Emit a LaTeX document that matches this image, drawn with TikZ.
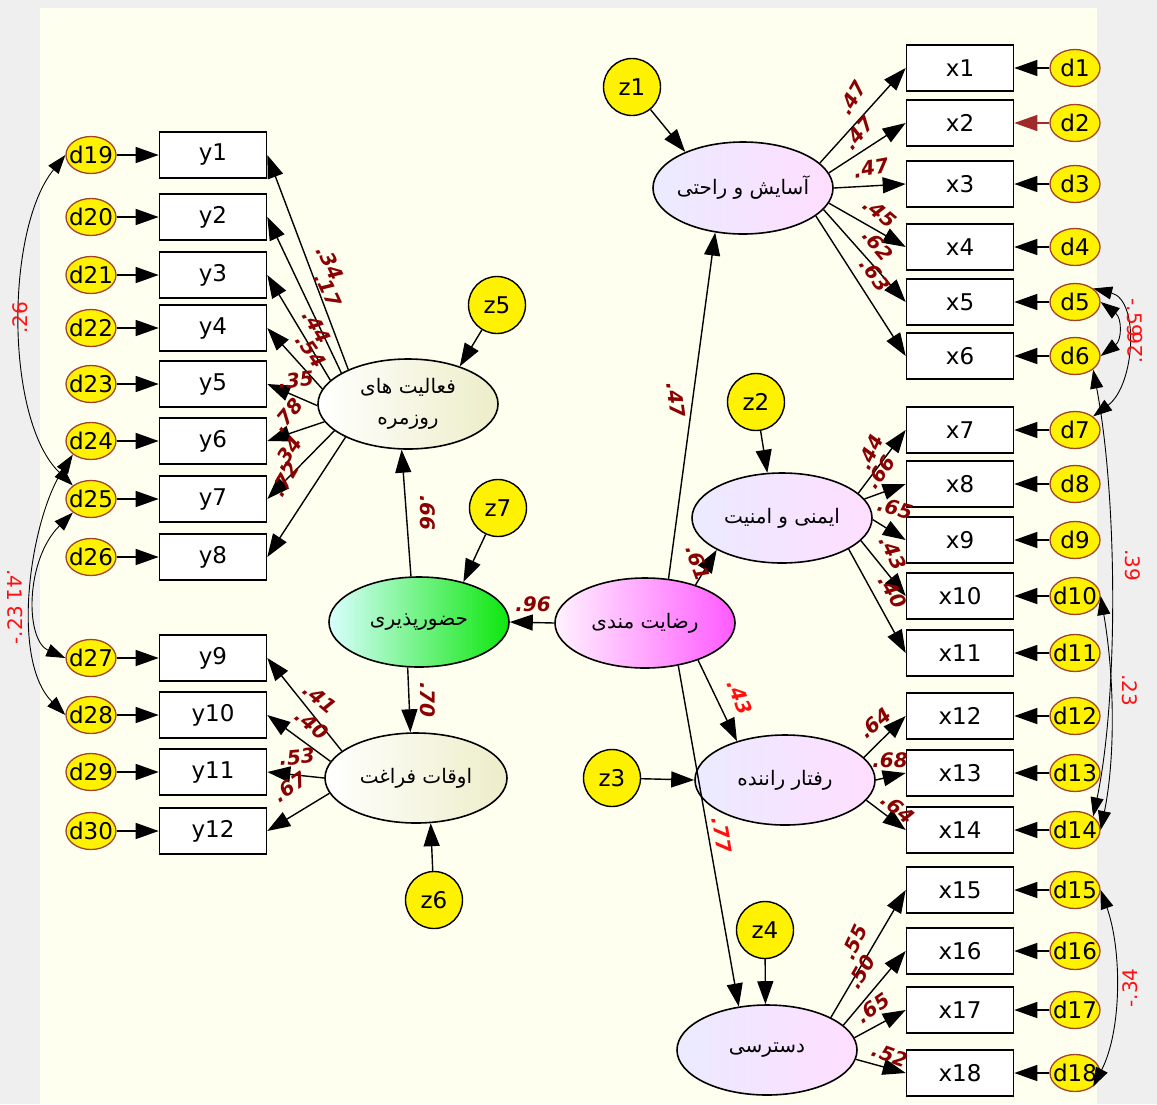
\documentclass[tikz,border=0pt]{standalone}
\usepackage{fontspec}
\setmainfont{DejaVu Sans}
\newfontfamily\fa[Script=Arabic]{DejaVu Sans}
\TeXXeTstate=1
\usetikzlibrary{arrows.meta,shapes.geometric}
\definecolor{bgray}{HTML}{EFEFEF}
\definecolor{pyel}{HTML}{FFFFF0}
\definecolor{labred}{HTML}{8B0000}
\definecolor{covred}{HTML}{FF1010}
\definecolor{dborder}{HTML}{A0442A}
\definecolor{darr}{HTML}{9E2A2A}
\newcommand\plab[5]{\node[plab,rotate=#4] (#1) at (#2,#3) {#5};}
\newcommand\clab[5]{\node[clab,rotate=#4] (#1) at (#2,#3) {#5};}
\begin{document}
\begin{tikzpicture}[x=1pt,y=-1pt,
  box/.style={draw,line width=1.6pt,fill=white,minimum width=107pt,minimum height=46pt,inner sep=0pt,font=\fontsize{23}{23}\selectfont},
  err/.style={ellipse,draw=dborder,line width=1.3pt,fill=yellow,minimum width=50pt,minimum height=37pt,inner sep=0pt,font=\fontsize{23}{23}\selectfont},
  zc/.style={circle,draw,line width=1.4pt,fill=yellow,minimum size=57pt,inner sep=0pt,font=\fontsize{23}{23}\selectfont},
  lat/.style={ellipse,draw,line width=1.6pt,minimum width=180pt,minimum height=90pt,inner sep=0pt},
  blue/.style={lat,left color=blue!8!white,right color=magenta!13!white},
  khaki/.style={lat,left color=white,right color=olive!14!white},
  ltxt/.style={font=\fa\fontsize{20}{31}\selectfont,align=center,inner sep=0pt},
  arr/.style={-{Triangle[length=23pt,width=16pt]},line width=1.4pt},
  cov/.style={{Triangle[length=19pt,width=13pt]}-{Triangle[length=19pt,width=13pt]},line width=0.9pt},
  plab/.style={font=\bfseries\itshape\fontsize{20}{20}\selectfont,text=labred,inner sep=0pt},
  clab/.style={font=\fontsize{20}{20}\selectfont,text=covred,inner sep=0pt}]
\useasboundingbox (0,0) rectangle (1157,1104);
\fill[bgray] (0,0) rectangle (1157,1104);
\fill[pyel] (40,8) rectangle (1097,1104);
% observed left
\foreach \i/\yy in {1/155,2/217,3/275,4/328,5/384,6/441,7/499,8/557,9/658,10/715,11/772,12/831}{
  \pgfmathtruncatemacro\j{\i+18}
  \node[box] (y\i) at (213,\yy) {y\i};
  \node[err] (d\j) at (91,\yy) {\makebox[0pt]{d\j}};
  \draw[arr] (d\j) -- (y\i);
}
% observed right
\foreach \i/\yy in {1/68,2/123,3/184,4/247,5/302,6/356,7/430,8/484,9/540,10/596,11/653,12/716,13/773,14/830,15/890,16/951,17/1010,18/1073}{
  \node[box] (x\i) at (960,\yy) {x\i};
  \node[err] (d\i) at (1075,\yy) {\makebox[0pt]{d\i}};
}
\foreach \i in {1,3,4,5,6,7,8,9,10,11,12,13,14,15,16,17,18}{\draw[arr] (d\i) -- (x\i);}
\draw[arr,draw=darr,-{Triangle[length=23pt,width=16pt,fill=darr]}] (d2) -- (x2);
% latent
\node[khaki] (F) at (408,404) {};
\node[ltxt] (Ft) at (F) {\beginR فعالیت های\endR\\\beginR روزمره\endR};
\node[lat,left color=cyan!15!white,right color=green!90!black!95!white] (H) at (419,622) {};
\node[ltxt] (Ht) at (H) {\beginR حضورپذیری\endR};
\node[khaki,minimum width=182pt] (O) at (416,778) {};
\node[ltxt] (Ot) at (O) {\beginR اوقات فراغت\endR};
\node[lat,left color=magenta!5!white,right color=magenta!65!white] (S) at (645,623) {};
\node[ltxt] (St) at (S) {\beginR رضایت مندی\endR};
\node[blue,minimum height=92pt] (A) at (743,188) {};
\node[ltxt] (At) at (A) {\beginR آسایش و راحتی\endR};
\node[blue] (I) at (782,518) {};
\node[ltxt] (It) at (I) {\beginR ایمنی و امنیت\endR};
\node[blue] (R) at (785,780) {};
\node[ltxt] (Rt) at (R) {\beginR رفتار راننده\endR};
\node[blue] (D) at (767,1050) {};
\node[ltxt] (Dt) at (D) {\beginR دسترسی\endR};
% disturbances
\node[zc] (z1) at (632,87) {z1};
\node[zc] (z2) at (756,402) {z2};
\node[zc] (z3) at (612,778) {z3};
\node[zc] (z4) at (765,930) {z4};
\node[zc] (z5) at (497,305) {z5};
\node[zc] (z6) at (434,900) {z6};
\node[zc] (z7) at (498,508) {z7};
\draw[arr] (z1) -- (A.148);
\draw[arr] (z2) -- (I.108);
\draw[arr] (z3) -- (R.180);
\draw[arr] (z4) -- (D.92);
\draw[arr] (z5) -- (F.36);
\draw[arr] (z6) -- (O.-72);
\draw[arr] (z7) -- (H.42);
% structural
\draw[arr] (S.180) -- (H.0);
\draw[arr] (S.62) -- (A.238);
\draw[arr] (S.37) -- (I.206);
\draw[arr] (S.-35) -- (R.141);
\draw[arr] (S.-52) -- (D.123);
\draw[arr] (H.100) -- (F.262);
\draw[arr] (H.256) -- (O.97);
% loadings
\foreach \i/\a in {1/150,2/155,3/163,4/170,5/181,6/192,7/200,8/208}{\draw[arr] (F.\a) -- (y\i.east);}
\foreach \i/\a in {9/160,10/169,11/180,12/190}{\draw[arr] (O.\a) -- (y\i.east);}
\foreach \i/\a in {1/18,2/10,3/0,4/-10,5/-15,6/-21}{\draw[arr] (A.\a) -- (x\i.west);}
\foreach \i/\a in {7/18,8/13,9/-1,10/-16,11/-25}{\draw[arr] (I.\a) -- (x\i.west);}
\foreach \i/\a in {12/16,13/0,14/-14}{\draw[arr] (R.\a) -- (x\i.west);}
\foreach \i/\a in {15/27,16/18,17/8,18/-6}{\draw[arr] (D.\a) -- (x\i.west);}
% covariances
\draw[cov] (d19.west) .. controls (5,230) and (5,420) .. (d25.north west);
\draw[cov] (d24.south west) .. controls (30,520) and (10,660) .. (d28.west);
\draw[cov] (d25.south west) .. controls (25,560) and (25,640) .. (d27.west);
\draw[cov] (d5.east) .. controls (1122,318) and (1122,340) .. (d6.east);
\draw[cov] (d5.north east) .. controls (1140,300) and (1135,385) .. (d7.north east);
\draw[cov] (d6.south east) .. controls (1118,500) and (1118,700) .. (d14.north east);
\draw[cov] (d10.east) .. controls (1115,680) and (1115,760) .. (d14.east);
\draw[cov] (d15.east) .. controls (1122,950) and (1122,1030) .. (d18.south east);
% labels
\plab{l1}{330}{263}{-65}{.34}
\plab{l2}{328}{290}{-65}{.17}
\plab{l3}{317}{327}{-60}{.44}
\plab{l4}{311}{351}{-55}{.54}
\plab{l5}{296}{380}{5}{.35}
\plab{l6}{287}{415}{50}{.78}
\plab{l7}{287}{453}{55}{.34}
\plab{l8}{285}{479}{60}{.72}
\plab{l9}{320}{698}{-40}{.41}
\plab{l10}{312}{724}{-40}{.40}
\plab{l11}{297}{757}{5}{.53}
\plab{l12}{290}{787}{35}{.67}
\plab{l13}{852}{98}{60}{.47}
\plab{l14}{858}{133}{50}{.47}
\plab{l15}{871}{168}{10}{.47}
\plab{l16}{880}{213}{-40}{.45}
\plab{l17}{878}{245}{-50}{.62}
\plab{l18}{875}{275}{-55}{.63}
\plab{l19}{870}{452}{65}{.44}
\plab{l20}{880}{472}{55}{.66}
\plab{l21}{895}{508}{-15}{.65}
\plab{l22}{893}{553}{-65}{.43}
\plab{l23}{893}{592}{-60}{.40}
\plab{l24}{875}{723}{40}{.64}
\plab{l25}{890}{760}{0}{.68}
\plab{l26}{898}{808}{-40}{.64}
\plab{l27}{854}{942}{65}{.55}
\plab{l28}{861}{972}{60}{.50}
\plab{l29}{873}{1008}{35}{.65}
\plab{l30}{890}{1055}{-20}{.52}
\plab{l31}{533}{604}{0}{.96}
\plab{l32}{428}{513}{-90}{.66}
\plab{l33}{428}{700}{-90}{.70}
\plab{l34}{698}{563}{-70}{.61}
\plab{l35}{676}{400}{-82}{.47}
\node[plab,text=covred,rotate=-68] (l36) at (740,697) {.43};
\node[plab,text=covred,rotate=-80] (l37) at (722,835) {.77};
\clab{c1}{20}{318}{90}{.26}
\clab{c2}{15}{585}{-90}{.41}
\clab{c3}{15}{625}{90}{-.23}
\clab{c4}{1135}{318}{-90}{-.59}
\clab{c5}{1135}{348}{90}{.26}
\clab{c6}{1133}{565}{-90}{.39}
\clab{c7}{1130}{690}{-90}{.23}
\clab{c8}{1130}{988}{90}{-.34}
\end{tikzpicture}
\end{document}
